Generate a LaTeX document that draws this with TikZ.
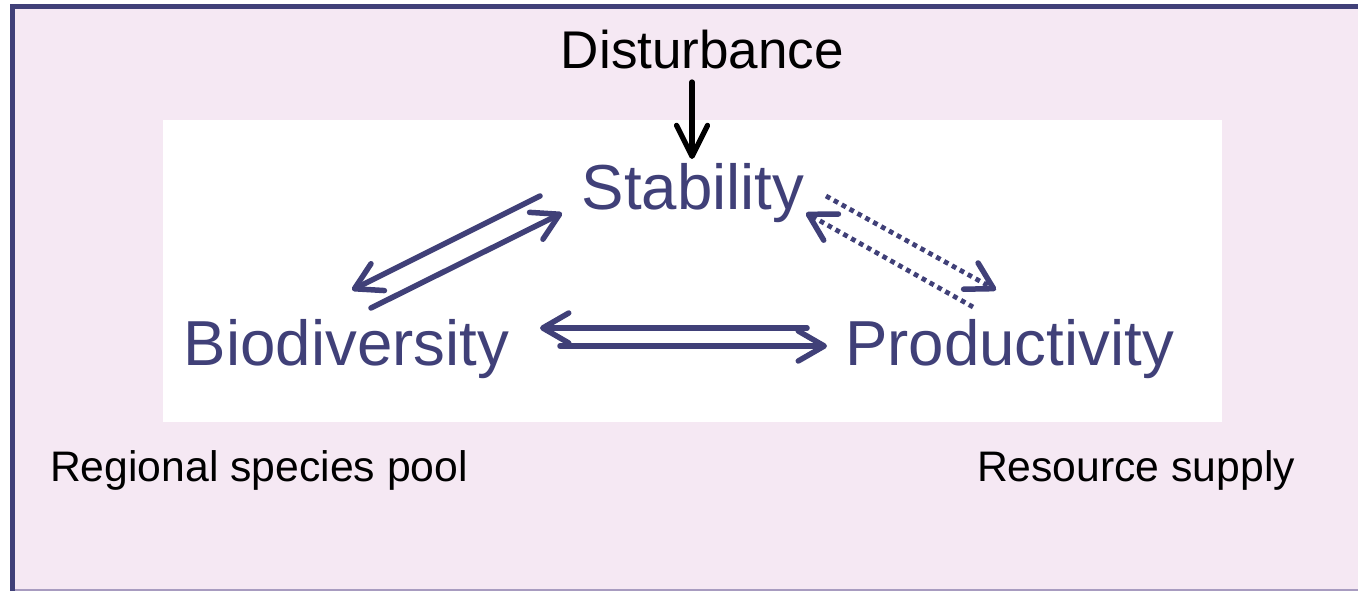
\documentclass[tikz,border=0pt]{standalone}
\usepackage{fontspec}
\setmainfont{Liberation Sans}
\usetikzlibrary{arrows.meta}
\definecolor{slate}{RGB}{64,64,120}
\definecolor{blush}{RGB}{245,232,243}
\definecolor{rim}{RGB}{168,156,192}
\tikzset{
  frame/.style={draw=slate, line width=0.1cm, line cap=butt},
  panel/.style={fill=white, draw=none},
  mainlabel/.style={font=\fontsize{36.2}{40}\selectfont, text=slate, inner sep=0pt, anchor=base},
  toplabel/.style={font=\fontsize{30.2}{36}\selectfont, text=black, inner sep=0pt, anchor=base},
  sidelabel/.style={font=\fontsize{24.3}{28}\selectfont, text=black, inner sep=0pt, anchor=base},
  link/.style={draw=slate, line width=0.11cm, line cap=round,
    -{Straight Barb[length=0.52cm, width=0.6cm, round]}},
  dotlink/.style={draw=slate, line width=0.095cm, line cap=butt, dash pattern=on 0.095cm off 0.085cm,
    -{Straight Barb[length=0.52cm, width=0.6cm, round, line width=0.11cm]}},
  cause/.style={draw=black, line width=0.105cm, line cap=round,
    -{Straight Barb[length=0.62cm, width=0.62cm, round]}},
}

\begin{document}
\begin{tikzpicture}[x=0.02cm, y=-0.02cm]
\useasboundingbox (0,0) rectangle (1358,591);
% background
\fill[blush] (12,6) rectangle (1358,591);
\draw[rim, line width=0.04cm] (12,590) -- (1358,590);
\draw[frame] (12.5,591) -- (12.5,6.8) -- (1358,6.8);
\fill[panel] (163,120) rectangle (1222,422);

% labels
\node[toplabel] (dist) at (702.5,69) {Disturbance};
\node[mainlabel] (stab) at (693,210) {Stability};
\node[mainlabel] (bio) at (346.5,365) {Biodiversity};
\node[mainlabel] (prod) at (1009.5,365) {Productivity};
\node[sidelabel] (pool) at (259,481) {Regional species pool};
\node[sidelabel] (supply) at (1136,481) {Resource supply};

% arrow ends
\coordinate (d0) at (692,82);  \coordinate (d1) at (692,159);
\coordinate (bs0) at (540,196); \coordinate (bs1) at (352,290);
\coordinate (sb0) at (371,308); \coordinate (sb1) at (562,213);
\coordinate (bp0) at (807,328); \coordinate (bp1) at (540,328);
\coordinate (pb0) at (560,346); \coordinate (pb1) at (827,346);
\coordinate (sp0) at (826,196); \coordinate (sp1) at (996,290);
\coordinate (ps0) at (973,307); \coordinate (ps1) at (806,213);

\draw[cause] (d0) -- (d1);
\draw[link] (bs0) -- (bs1);
\draw[link] (sb0) -- (sb1);
\draw[link] (bp0) -- (bp1);
\draw[link] (pb0) -- (pb1);
\draw[dotlink] (sp0) -- (sp1);
\draw[dotlink] (ps0) -- (ps1);
\end{tikzpicture}
\end{document}
